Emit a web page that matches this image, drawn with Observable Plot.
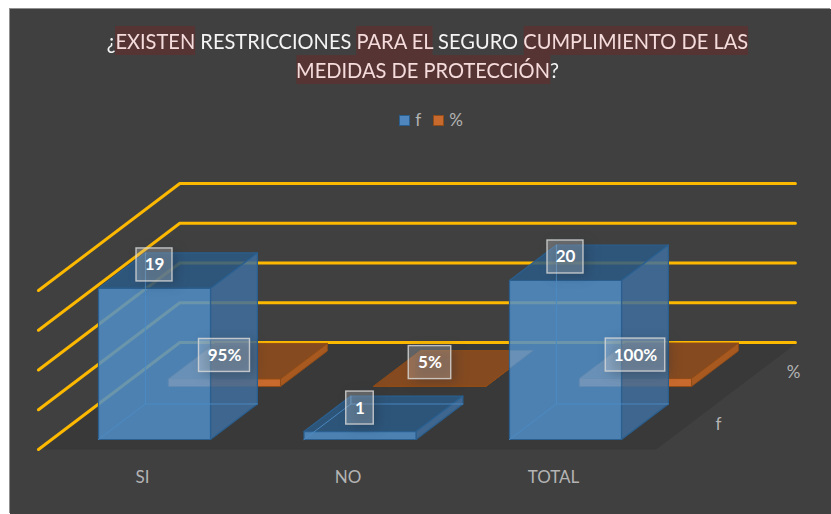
<!DOCTYPE html>
<html lang="es">
<head>
<meta charset="utf-8">
<script src="https://cdn.jsdelivr.net/npm/d3@7"></script>
<script src="https://cdn.jsdelivr.net/npm/@observablehq/plot@0.6"></script>
<style>
  html, body { margin: 0; padding: 0; background: #fff; width: 831px; height: 514px; overflow: hidden; }
  #panel { position: absolute; left: 10px; top: 9px; width: 821px; height: 505px; background: #404040; box-shadow: -1px -1px 0 #8f8f8f; overflow: hidden; font-family: Lato, sans-serif; }
  #title { height: 90px; padding-top: 17px; box-sizing: border-box; width: 835px; text-align: center; font-size: 21.8px; line-height: 29px; color: #f4f4f4; white-space: nowrap; transform: scaleX(0.92); }
  #title span { background: #573434; color: #f5dcdc; padding: 1px 0; }
  #legend { height: 41px; box-sizing: border-box; padding-top: 0; width: 842px; display: flex; justify-content: center; align-items: center; font-size: 17px; color: #b4b4b4; line-height: 20px; }
  #legend i { display: inline-block; width: 9px; height: 9px; margin: 2px 5px 0 12px; border: 1px solid; }
  #legend i:first-child { margin-left: 0; }
  svg { display: block; font-family: Lato, sans-serif; }
  .glow { filter: blur(6px); }
</style>
</head>
<body>
<div id="panel">
  <div id="title">¿<span>EXISTEN</span> RESTRICCIONES <span>PARA EL</span> SEGURO <span>CUMPLIMIENTO DE LAS</span><br><span>MEDIDAS DE PROTECCIÓN</span>?</div>
  <div id="legend"></div>
  <div id="chart"></div>
</div>
<script>
// ---- data ----
const categories = ["SI", "NO", "TOTAL"];
const seriesNames = ["f", "%"];
const valuesF = [19, 1, 20];
const valuesPct = [0.95, 0.05, 1];
const gridLevels = [0, 5, 10, 15, 20];

// ---- oblique 3D model: (column, depth, value) -> plot channels (u, v) ----
const barW = 0.545, depthT = 0.67;
const kU = 0.3406, kV = 6.667;
const floorD0 = -0.189, floorD1 = 1.83, floorL = -0.2277, floorR = 2.778;
const P = (c, d, val) => ({u: c + d * kU, v: val + d * kV});

let pid = 0;
const polys = list => list.flatMap(pts => { const id = pid++; return pts.map(p => ({...p, id})); });
const polyMark = (list, o) => Plot.line(polys(list), {x: "u", y: "v", z: "id", curve: "linear-closed", ...o});

function faces(c, d, h) {
  const x0 = c, x1 = c + barW, d1 = d + depthT;
  return {
    front: [P(x0, d, 0), P(x1, d, 0), P(x1, d, h), P(x0, d, h)],
    side: [P(x1, d, 0), P(x1, d1, 0), P(x1, d1, h), P(x1, d, h)],
    top: [P(x0, d, h), P(x1, d, h), P(x1, d1, h), P(x0, d1, h)],
    inner: [
      [P(x0, d, 0), P(x0, d1, 0), P(x1, d1, 0)],
      [P(x0, d1, 0), P(x0, d1, h)]
    ]
  };
}

// clip a polygon to a band on one channel
function clipBand(poly, key, lo, hi) {
  const other = key === "u" ? "v" : "u";
  const clip = (pts, inside, at) => pts.flatMap((p, i) => {
    const q = pts[(i + 1) % pts.length], out = [];
    if (inside(p)) out.push(p);
    if (inside(p) !== inside(q)) { const t = (at - p[key]) / (q[key] - p[key]); out.push({[key]: at, [other]: p[other] + t * (q[other] - p[other])}); }
    return out;
  });
  const a = clip(poly, p => p[key] >= lo, lo);
  return a.length ? clip(a, p => p[key] <= hi, hi) : [];
}

const barsF = valuesF.map((h, i) => faces(i, 0, h));
const barsP = valuesPct.map((h, i) => faces(i, 1, h));

// pale shape of the flat % bars seen through the glass front of the f bars
const seen = valuesF.flatMap((h, i) => barsP.flatMap(b =>
  [b.top, b.front].map(p => clipBand(clipBand(p, "u", i, i + barW), "v", 0, h)).filter(p => p.length > 2)));

const gridEnd = floorR - 0.01;
const grid = gridLevels.map(g => [P(floorL, floorD0, g), P(floorL, floorD0 + 2.019, g), P(gridEnd, floorD0 + 2.019, g)]);

const pxU = 1 / 205.5, pxV = 1 / 7.95;
const labels = [
  ...valuesF.map((h, i) => ({...P(i + barW / 2, 0, h + 23.5 * pxV), t: String(h), w: 19 + 8.5 * String(h).length})),
  ...valuesPct.map((h, i) => { const t = d3.format(".0%")(h); return {...P(i + barW / 2, 1, h + 23.5 * pxV), t, w: 19 + 8.5 * (t.length - 1) + 15}; })
];
const box = d => ({x1: d.u - d.w / 2 * pxU, x2: d.u + d.w / 2 * pxU, y1: d.v - 16.5 * pxV, y2: d.v + 16.5 * pxV});
const boxes = labels.map(d => ({...d, ...box(d)}));

const blue = {front: "#508ec8", side: "#3f6f9d", top: "#2b5a86", edge: "#2a5f8f", inner: "#4c8cc4"};
const orange = {front: "#c8692d", side: "#a8591f", top: "#854a20", edge: "#8f4c18"};

const chart = Plot.plot({
  width: 821, height: 374, margin: 0,
  style: {background: "transparent", overflow: "visible"},
  x: {axis: null, domain: [-88 * pxU, 733 * pxU], range: [0, 821]},
  y: {axis: null, domain: [-75 * pxV, 299 * pxV], range: [374, 0]},
  marks: [
    // floor
    polyMark([[P(floorL, floorD0, 0), P(floorR, floorD0, 0), P(floorR, floorD0 + 2.019, 0), P(floorL, floorD0 + 2.019, 0)]], {fill: "#393939", stroke: "none"}),
    // gridlines
    Plot.line(polys(grid), {x: "u", y: "v", z: "id", stroke: "#fdb900", strokeWidth: 3, strokeLinecap: "round", strokeLinejoin: "round"}),
    // % bars
    polyMark(barsP.map(b => b.top), {fill: orange.top, stroke: orange.edge, strokeWidth: 1}),
    polyMark(barsP.map(b => b.side), {fill: orange.side, stroke: orange.edge, strokeWidth: 1}),
    polyMark(barsP.map(b => b.front), {fill: orange.front, stroke: orange.edge, strokeWidth: 1}),
    // f bars (glass)
    polyMark(barsF.map(b => b.top), {fill: blue.top, fillOpacity: 0.85, stroke: blue.edge, strokeWidth: 1.2}),
    polyMark(barsF.map(b => b.side), {fill: blue.side, fillOpacity: 0.85, stroke: blue.edge, strokeWidth: 1.2}),
    polyMark(barsF.map(b => b.front), {fill: blue.front, fillOpacity: 0.85, stroke: blue.edge, strokeWidth: 1.2}),
    polyMark(seen, {fill: "#fff", fillOpacity: 0.1, stroke: "none"}),
    Plot.line(polys(barsF.flatMap(b => b.inner)), {x: "u", y: "v", z: "id", stroke: blue.inner, strokeWidth: 1, strokeOpacity: 0.9}),
    // data label boxes
    Plot.rect(boxes, {x1: "x1", x2: "x2", y1: "y1", y2: "y2", fill: "#1d2c3a", fillOpacity: 0.32, className: "glow", dx: 5, dy: 3}),
    Plot.rect(boxes, {x1: "x1", x2: "x2", y1: "y1", y2: "y2", fill: "#fff", fillOpacity: 0.22, stroke: "#d6d6d6", strokeWidth: 1.4, strokeOpacity: 0.85}),
    Plot.text(boxes, {x: "u", y: "v", text: "t", fill: "#fff", fontSize: 17, fontWeight: 700, fontFamily: "Lato, sans-serif"}),
    // category labels
    Plot.text(categories, {x: (d, i) => i + barW / 2 - 12 * pxU, y: () => -38 * pxV, text: d => d, fill: "#b4b4b4", fontSize: 17, fontFamily: "Lato, sans-serif"}),
    // depth axis labels
    Plot.text([seriesNames[0]], {x: () => P(3.017, 0, 0).u, y: () => P(3.017, 0, 15 * pxV).v, text: d => d, fill: "#b4b4b4", fontSize: 17, fontFamily: "Lato, sans-serif"}),
    Plot.text([seriesNames[1]], {x: () => P(3.017, 1, 0).u, y: () => P(3.017, 1, 15 * pxV).v, dx: 5, dy: 1, text: d => d, fill: "#b4b4b4", fontSize: 17, fontFamily: "Lato, sans-serif"})
  ]
});
document.getElementById("chart").append(chart);

// legend
const swatch = {"f": ["#4f86bd", "#2a5f8f"], "%": ["#c8692d", "#8f4c18"]};
const legend = document.getElementById("legend");
seriesNames.forEach(n => {
  const i = document.createElement("i");
  i.style.background = swatch[n][0]; i.style.borderColor = swatch[n][1];
  legend.append(i, document.createTextNode(n));
});
</script>
</body>
</html>
